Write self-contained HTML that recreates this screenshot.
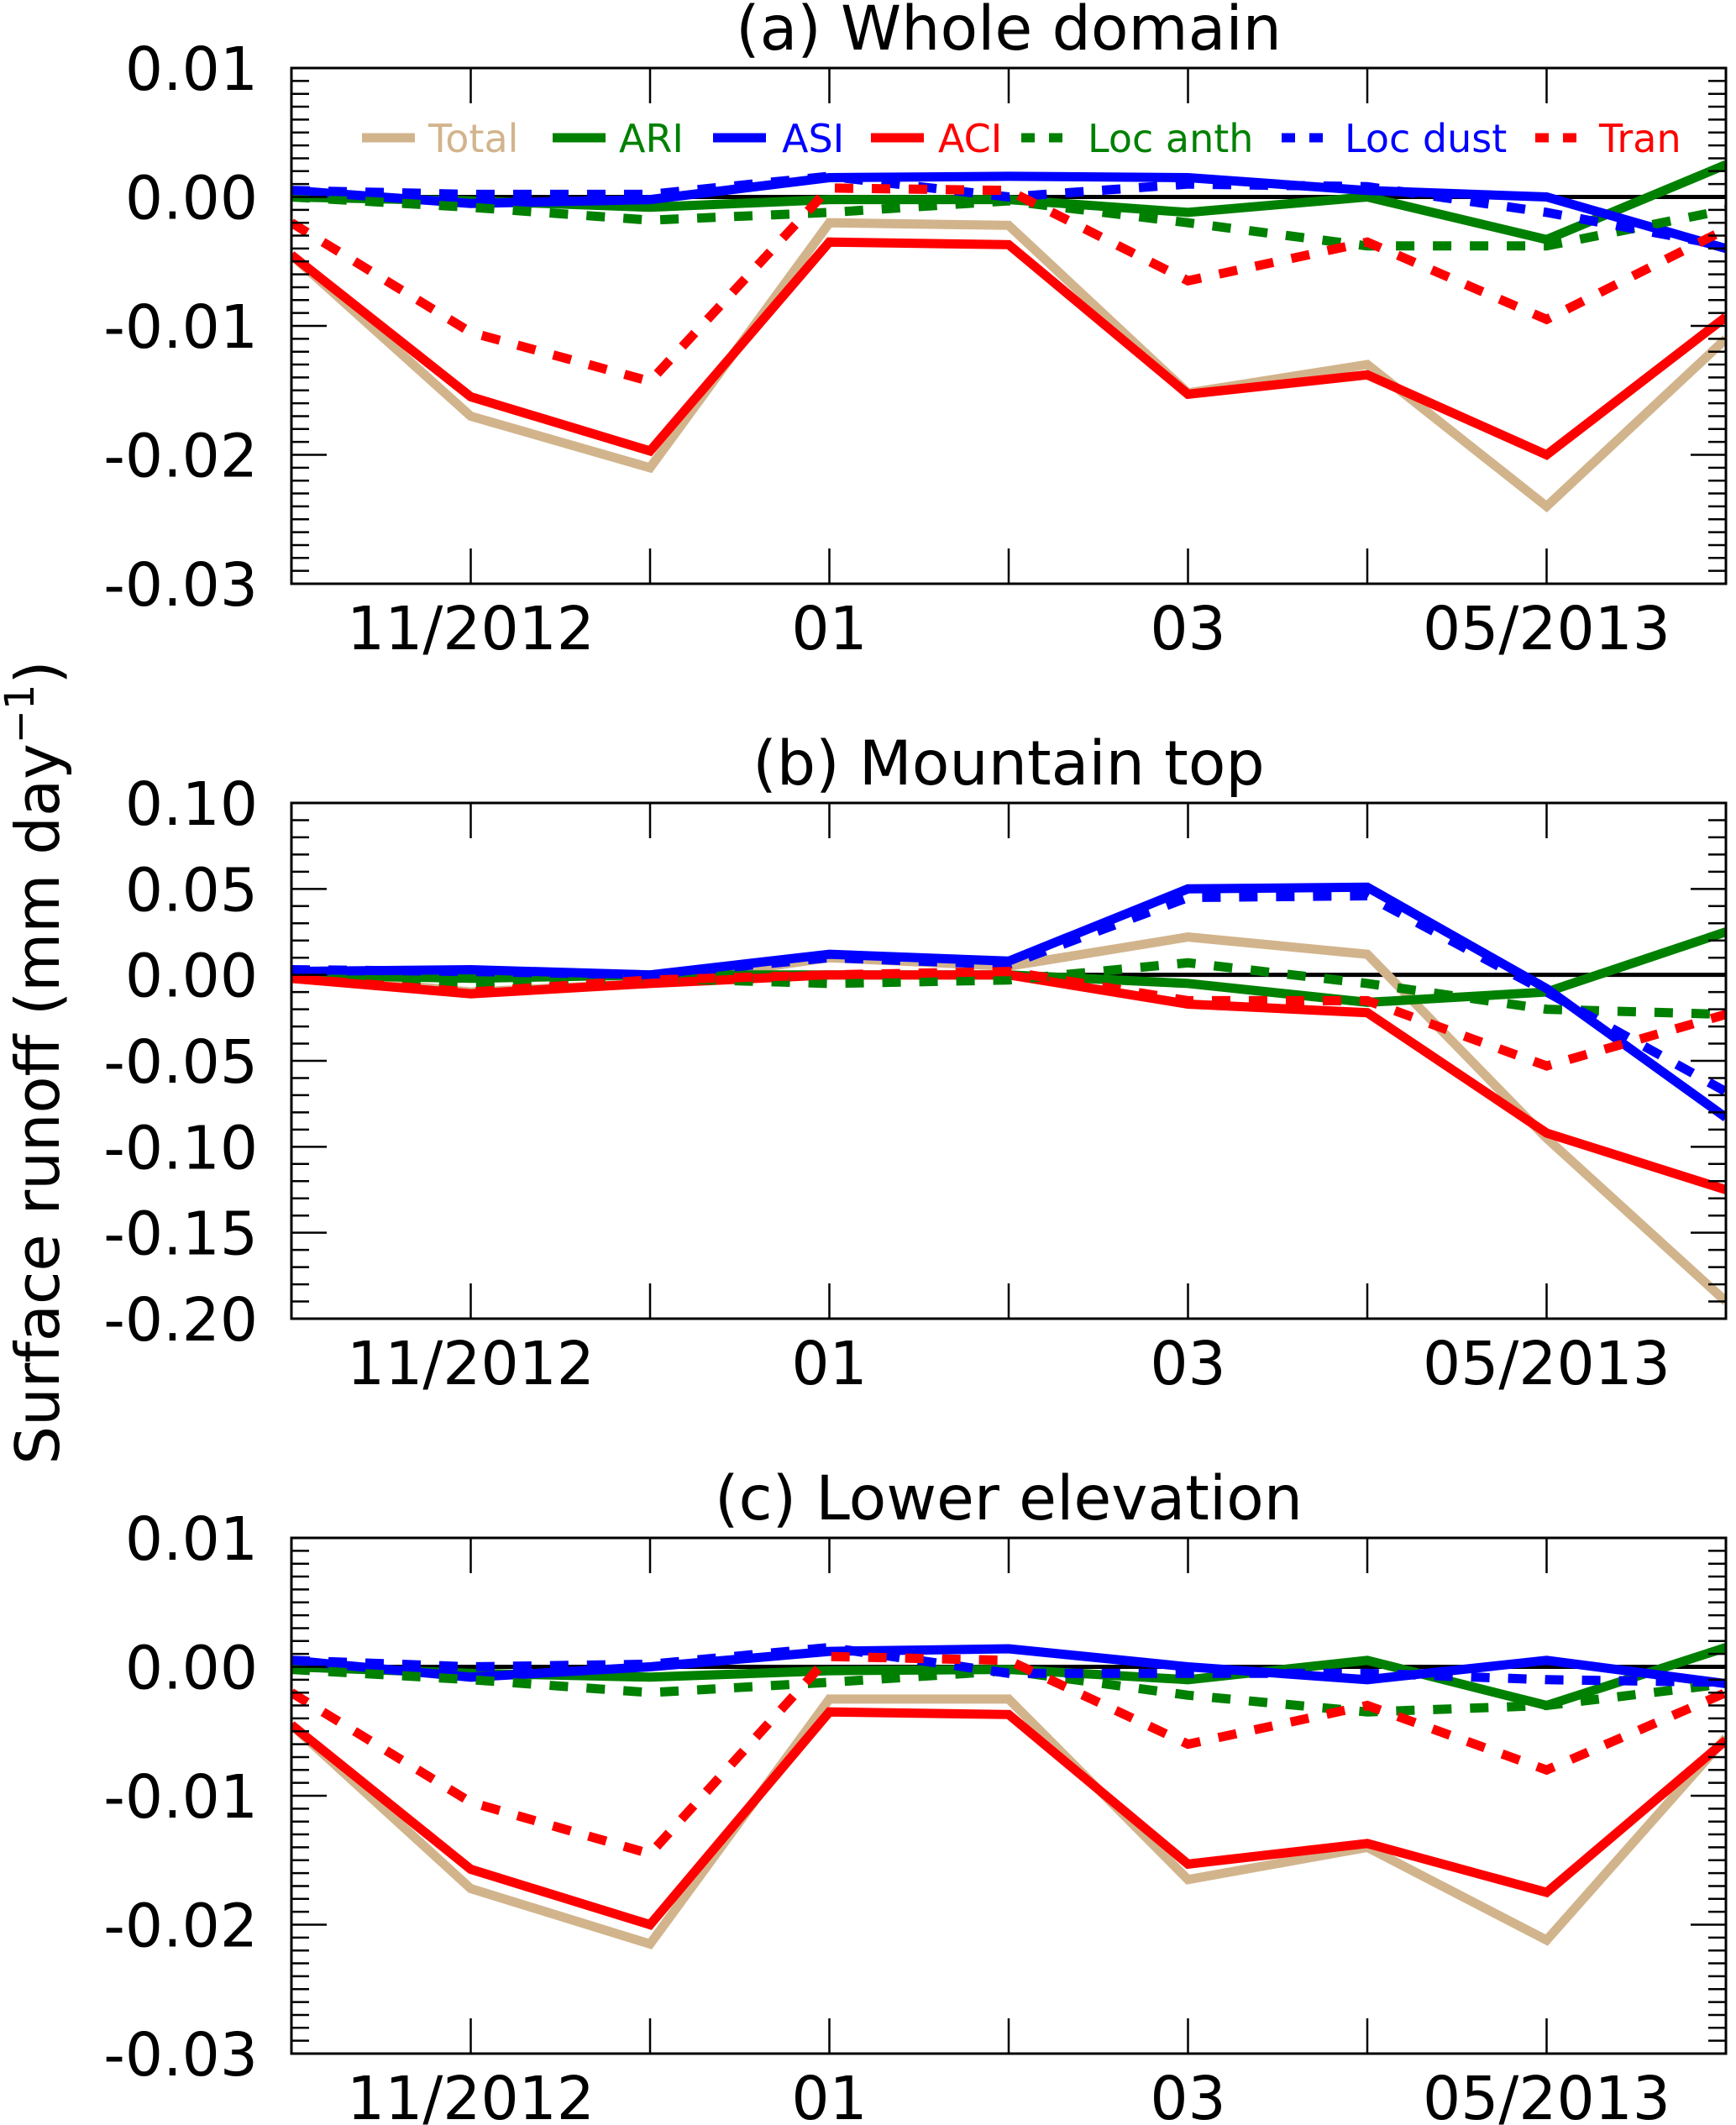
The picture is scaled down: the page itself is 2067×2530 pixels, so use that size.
<!DOCTYPE html>
<html><head><meta charset="utf-8">
<style>
html,body{margin:0;padding:0;background:#fff;}
svg{display:block;font-family:"DejaVu Sans","Liberation Sans",sans-serif;}
</style></head>
<body>
<svg id="fig" width="2067" height="2530" viewBox="0 0 2067 2530" xmlns="http://www.w3.org/2000/svg">
<text transform="translate(70,1265) rotate(-90)" text-anchor="middle" font-size="72">Surface runoff (mm day<tspan dy="-30" font-size="48">−1</tspan><tspan dy="30">)</tspan></text>
</svg>
<script>
const months = ["10","11/2012","12","01","02","03","04","05/2013","06"];
const tickLabelsX = ["11/2012","01","03","05/2013"];
const tickIdxX = [1,3,5,7];
const seriesNames = ["Total","ARI","ASI","ACI","Loc anth","Loc dust","Tran"];
// panel (a) whole domain, mm/day
const aTotal = [-0.0045,-0.017,-0.021,-0.002,-0.0022,-0.0152,-0.013,-0.024,-0.011];
const aARI = [0,-0.0003,-0.0008,-0.0002,-0.0002,-0.0012,0,-0.0033,0.0025];
const aASI = [0.0005,-0.0005,-0.0002,0.0015,0.0016,0.0015,0.0005,0,-0.004];
const aACI = [-0.0045,-0.0155,-0.0197,-0.0035,-0.0037,-0.0153,-0.0138,-0.020,-0.0093];
const aLocAnth = [0,-0.0008,-0.0018,-0.0012,-0.0003,-0.002,-0.0038,-0.0038,-0.001];
const aLocDust = [0.0005,0.0002,0.0002,0.0016,0,0.001,0.0008,-0.0012,-0.0038];
const aTran = [-0.002,-0.0105,-0.0143,0.0007,0.0005,-0.0065,-0.0035,-0.0095,-0.0025];
// panel (b) mountain top
const bTotal = [0,-0.01,-0.005,0.01,0.005,0.022,0.012,-0.095,-0.19];
const bARI = [0,-0.002,0,0,0,-0.005,-0.016,-0.01,0.025];
const bASI = [0.002,0.003,0,0.012,0.008,0.05,0.051,-0.008,-0.083];
const bACI = [-0.002,-0.011,-0.005,0,0,-0.017,-0.022,-0.092,-0.125];
const bLocAnth = [0,-0.005,-0.002,-0.005,-0.003,0.007,-0.005,-0.02,-0.023];
const bLocDust = [0.003,0.002,0,0.01,0.006,0.045,0.046,-0.01,-0.068];
const bTran = [-0.002,-0.01,-0.003,0,0.002,-0.015,-0.015,-0.053,-0.023];
// panel (c) lower elevation
const cTotal = [-0.0045,-0.0172,-0.0215,-0.0025,-0.0025,-0.0165,-0.014,-0.0212,-0.0055];
const cARI = [0,-0.0005,-0.0008,-0.0003,-0.0002,-0.001,0.0005,-0.003,0.0015];
const cASI = [0.0005,-0.0008,0,0.0012,0.0014,0,-0.001,0.0005,-0.0013];
const cACI = [-0.0045,-0.0157,-0.020,-0.0035,-0.0037,-0.0153,-0.0137,-0.0175,-0.0057];
const cLocAnth = [-0.0002,-0.001,-0.002,-0.0012,-0.0003,-0.0022,-0.0035,-0.003,-0.0013];
const cLocDust = [0.0005,0,0.0002,0.0015,-0.0005,-0.0005,-0.0005,-0.001,-0.0012];
const cTran = [-0.002,-0.0105,-0.0145,0.0008,0.0005,-0.006,-0.003,-0.008,-0.002];

const NS="http://www.w3.org/2000/svg";
const svg=document.getElementById('fig');
function mk(tag,attrs,parent){const e=document.createElementNS(NS,tag);for(const k in attrs)e.setAttribute(k,attrs[k]);(parent||svg).appendChild(e);return e;}
const styles=[
 {c:"#D2B48C",d:null},{c:"#008000",d:null},{c:"#0000FF",d:null},{c:"#FF0000",d:null},
 {c:"#008000",d:"22,22"},{c:"#0000FF",d:"22,22"},{c:"#FF0000",d:"22,22"}];
const L=347,R=2055;
function xs(i){return L+(R-L)*i/8;}
const panels=[
 {id:"a",title:"(a) Whole domain",top:81,bot:695,ymax:0.01,ymin:-0.03,major:0.01,minor:0.001,dec:2,data:[aTotal,aARI,aASI,aACI,aLocAnth,aLocDust,aTran],legend:true},
 {id:"b",title:"(b) Mountain top",top:956,bot:1570,ymax:0.10,ymin:-0.20,major:0.05,minor:0.01,dec:2,data:[bTotal,bARI,bASI,bACI,bLocAnth,bLocDust,bTran]},
 {id:"c",title:"(c) Lower elevation",top:1831,bot:2445,ymax:0.01,ymin:-0.03,major:0.01,minor:0.001,dec:2,data:[cTotal,cARI,cASI,cACI,cLocAnth,cLocDust,cTran]}
];
panels.forEach(p=>{
 const g=mk('g',{});
 
 
 const ys=v=>p.top+(p.ymax-v)/(p.ymax-p.ymin)*(p.bot-p.top);
 const t=mk('text',{x:(L+R)/2,y:p.top-22,'text-anchor':'middle','font-size':73},g);
 t.textContent=p.title;
 
 
 const cp=mk('clipPath',{id:'clip'+p.id},g);
 mk('rect',{x:L,y:p.top,width:R-L,height:p.bot-p.top},cp);
 const z=mk('line',{x1:L,x2:R,y1:ys(0),y2:ys(0),stroke:'#000','stroke-width':5},g);
 
 
 p.data.forEach((arr,si)=>{
  const pts=arr.map((v,i)=>xs(i).toFixed(1)+','+ys(v).toFixed(1)).join(' ');
  const st=styles[si];
  const pl=mk('polyline',{points:pts,fill:'none',stroke:st.c,'stroke-width':11,'stroke-linejoin':'miter','clip-path':'url(#clip'+p.id+')'},g);
  if(st.d)pl.setAttribute('stroke-dasharray',st.d);
  
  
 });
 const fr=mk('rect',{x:L,y:p.top,width:R-L,height:p.bot-p.top,fill:'none',stroke:'#000','stroke-width':3},g);
 
 
 for(let i=1;i<8;i++){
  mk('line',{x1:xs(i),x2:xs(i),y1:p.top,y2:p.top+42,stroke:'#000','stroke-width':2.5},g);
  mk('line',{x1:xs(i),x2:xs(i),y1:p.bot,y2:p.bot-42,stroke:'#000','stroke-width':2.5},g);
 }
 tickIdxX.forEach((ix,k)=>{
  const tl=mk('text',{x:xs(ix),y:p.bot+78,'text-anchor':'middle','font-size':71},g);
  tl.textContent=tickLabelsX[k];
  
  
 });
 const nMin=Math.round((p.ymax-p.ymin)/p.minor);
 const ratio=Math.round(p.major/p.minor);
 for(let k=0;k<=nMin;k++){
  const v=p.ymax-k*p.minor; const y=ys(v); const len=(k%ratio===0)?42:21;
  mk('line',{x1:L,x2:L+len,y1:y,y2:y,stroke:'#000','stroke-width':2.5},g);
  mk('line',{x1:R,x2:R-len,y1:y,y2:y,stroke:'#000','stroke-width':2.5},g);
  if(k%ratio===0){
   const yl=mk('text',{x:307,y:y+26,'text-anchor':'end','font-size':71},g);
   let s=Math.abs(v)<1e-9?"0.00":v.toFixed(p.dec);
   yl.textContent=s;
   
   
  }
 }
 if(p.legend){
  const lg=mk('g',{},g);
  
  
  const lx=[431,658,849,1037,1216,1526,1828];
  const tx=[510,737,931,1117,1295,1601,1904];
  seriesNames.forEach((n,si)=>{
   const st=styles[si];
   const ln=mk('line',{x1:lx[si],x2:lx[si]+63,y1:164,y2:164,stroke:st.c,'stroke-width':11},lg);
   if(st.d)ln.setAttribute('stroke-dasharray','16,17');
   
   
   const tt=mk('text',{x:tx[si],y:181,'font-size':46,fill:st.c},lg);
   tt.textContent=n;
   
   
  });
 }
});
</script>
</body></html>
